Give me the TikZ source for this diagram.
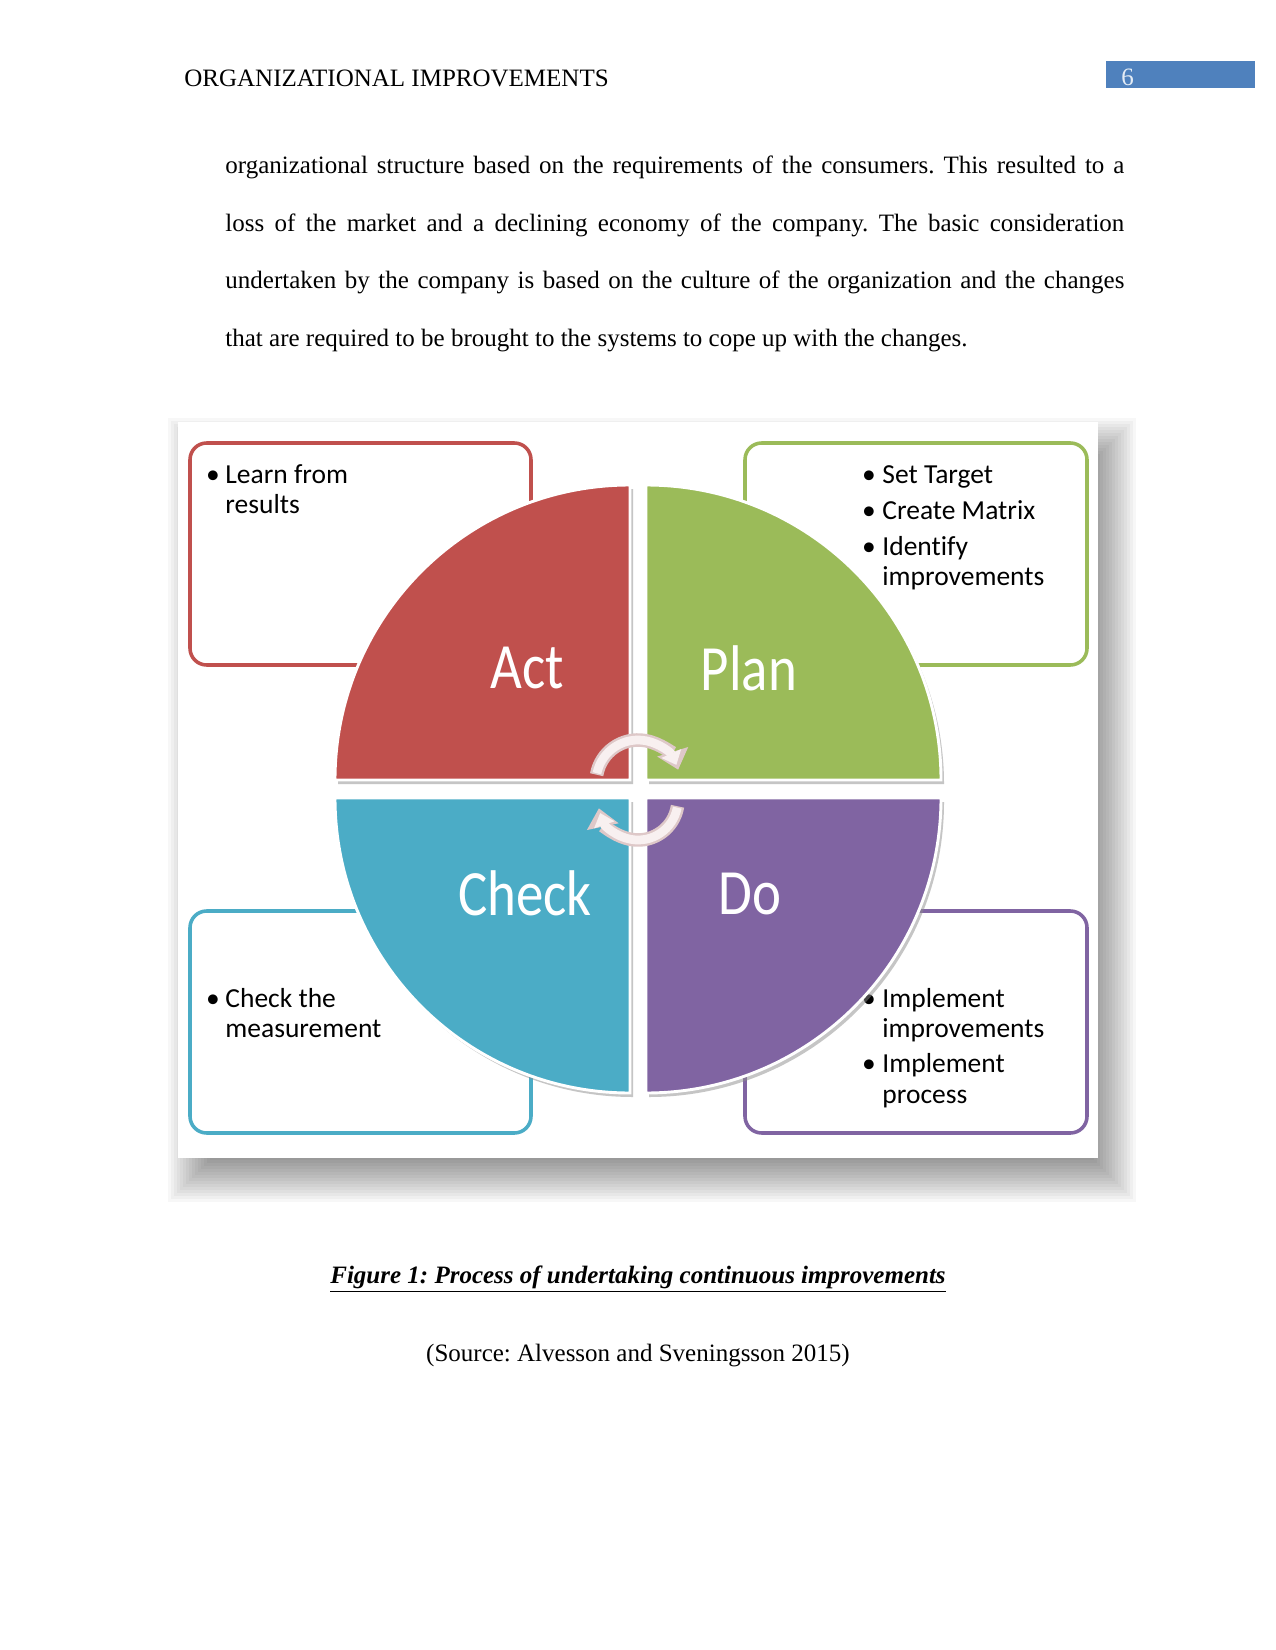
\documentclass[tikz,border=0pt]{standalone}
\usepackage{fontspec}
\usepackage{graphicx}
\setmainfont{Liberation Serif}
\newfontfamily\diagfont[Ligatures=NoCommon]{Carlito}
\usetikzlibrary{arrows.meta}
\frenchspacing

\definecolor{actred}{RGB}{192,80,77}
\definecolor{plangreen}{RGB}{155,187,89}
\definecolor{checkblue}{RGB}{75,172,198}
\definecolor{dopurple}{RGB}{128,100,162}
\definecolor{headblue}{RGB}{79,129,189}
\definecolor{arrowedge}{RGB}{222,200,200}
\definecolor{arrowfill}{RGB}{248,240,240}

\tikzset{
  bodyline/.style={anchor=base west, inner sep=0pt, font=\fontsize{12}{14}\selectfont},
  itm/.style={anchor=base west, inner sep=0pt, font=\diagfont\fontsize{13.2}{14}\selectfont},
  bul/.style={anchor=base, inner sep=0pt, font=\diagfont\fontsize{13.2}{14}\selectfont},
  qlabel/.style={text=white, inner sep=0pt, font=\diagfont\fontsize{31}{31}\selectfont},
  infobox/.style={fill=white, line width=1.7pt, rounded corners=8pt},
  quad/.style={draw=white, line width=1.4pt},
  cycarrow/.style={line width=#1, line cap=butt}
}

\begin{document}
\begin{tikzpicture}[x=0.48pt,y=0.48pt,yscale=-1]
\useasboundingbox (0,0) rectangle (1275,1650);
\fill[white] (0,0) rectangle (1275,1650);

% running head
\node[bodyline] (head) at (184,87) {ORGANIZATIONAL IMPROVEMENTS};
\fill[headblue] (1106,61) rectangle (1255,88);
\node[bodyline, text=white!85!headblue] (pnum) at (1121,86) {6};

% text before the figure
\node[bodyline] (line1) at (225,174) {\hbox to 431.5pt{organizational structure based on the requirements of the consumers. This resulted to a}};
\node[bodyline] (line2) at (225,232) {\hbox to 431.5pt{loss of the market and a declining economy of the company. The basic consideration}};
\node[bodyline] (line3) at (225,289) {\hbox to 431.5pt{undertaken by the company is based on the culture of the organization and the changes}};
\node[bodyline] (line4) at (225,347) {that are required to be brought to the systems to cope up with the changes.};

% figure panel with soft shadow
\foreach \s in {0,3,...,48}
  \fill[black, opacity=0.03] (216-\s,466-\s) rectangle (1088+\s,1154+\s);
\fill[white] (178,422) rectangle (1098,1158);

% corner boxes
\draw[infobox, draw=actred] (190,443) rectangle (531,665);
\draw[infobox, draw=plangreen] (745,443) rectangle (1087,665);
\draw[infobox, draw=checkblue] (190,911) rectangle (531,1133);
\draw[infobox, draw=dopurple] (745,911) rectangle (1087,1133);

\foreach \xx/\yy [count=\i] in {213/483, 869/483, 869/519, 869/555, 213/1007, 869/1007, 869/1072}
  \node[bul] (bul\i) at (\xx,\yy) {\textbullet};
\foreach \xx/\yy/\txt [count=\i] in {225/483/Learn from, 225/513/results,
    882/483/Set Target, 882/519/Create Matrix, 882/555/Identify, 882/585/improvements,
    225/1007/Check the, 225/1037/measurement,
    882/1007/Implement, 882/1037/improvements, 882/1072/Implement, 882/1103/process}
  \node[itm] (txt\i) at (\xx,\yy) {\txt};

% quarters of the cycle
\foreach \cx/\cy/\a in {630/780/180, 646/780/270, 646/798/0, 630/798/90}
  \fill[black!45, opacity=0.5] (\cx+3,\cy+4) -- ++(\a:295) arc[start angle=\a, end angle=\a+90, radius=295] -- cycle;
\foreach \cx/\cy/\a/\col in {630/780/180/actred, 646/780/270/plangreen, 646/798/0/dopurple, 630/798/90/checkblue}
  \filldraw[quad, fill=\col] (\cx,\cy) -- ++(\a:295) arc[start angle=\a, end angle=\a+90, radius=295] -- cycle;

\node[qlabel] (act) at (527,668) {\scalebox{0.85}[1]{Act}};
\node[qlabel] (plan) at (749,668) {\scalebox{0.85}[1]{Plan}};
\node[qlabel] (check) at (525,893) {\scalebox{0.85}[1]{Check}};
\node[qlabel] (do) at (750,894) {\scalebox{0.85}[1]{Do}};

% turning arrows in the middle
\coordinate (topc) at (638,782);
\coordinate (botc) at (638,800);
\draw[cycarrow=6.5pt, arrowedge, -{Triangle[length=9pt,width=15pt]}] ([shift={(190:42)}]topc) arc[start angle=190, end angle=343, radius=42];
\draw[cycarrow=4.2pt, arrowfill, -{Triangle[length=6pt,width=10pt]}] ([shift={(192:42)}]topc) arc[start angle=192, end angle=336, radius=42];
\draw[cycarrow=6.5pt, arrowedge, -{Triangle[length=9pt,width=15pt]}] ([shift={(9:40)}]botc) arc[start angle=9, end angle=168, radius=40];
\draw[cycarrow=4.2pt, arrowfill, -{Triangle[length=6pt,width=10pt]}] ([shift={(11:40)}]botc) arc[start angle=11, end angle=161, radius=40];

% caption and source
\node[bodyline, anchor=base] (cap) at (638,1283) {\bfseries\itshape\underline{Figure 1: Process of undertaking continuous improvements}};
\node[bodyline, anchor=base] (src) at (638,1361) {(Source: Alvesson and Sveningsson 2015)};
\end{tikzpicture}
\end{document}
